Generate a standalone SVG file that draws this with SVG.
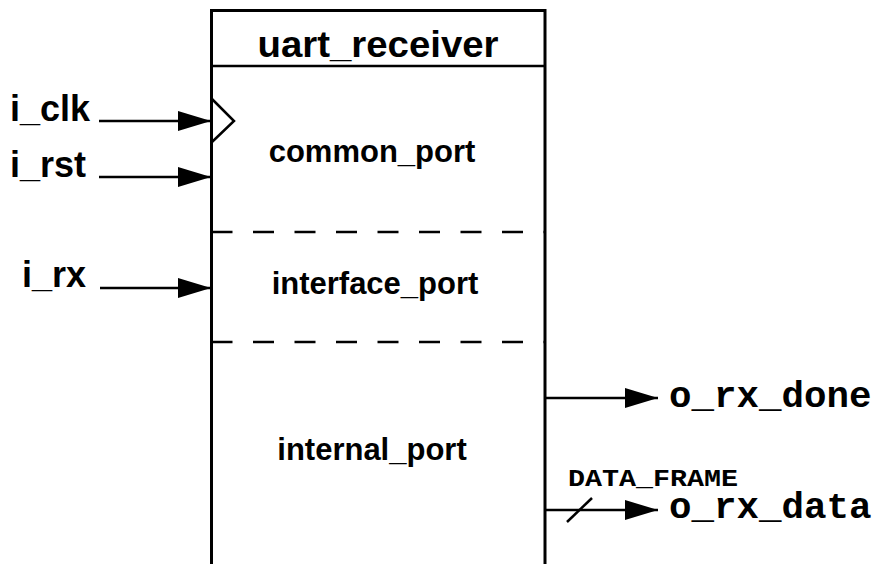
<svg xmlns="http://www.w3.org/2000/svg" width="877" height="564" viewBox="0 0 877 564">
<style>
.box{fill:#fff;stroke:#000;stroke-width:3}
.div{stroke:#000;stroke-width:2.5;fill:none}
.dash{stroke:#000;stroke-width:2.5;stroke-dasharray:21 20.5;fill:none}
.wire{stroke:#000;stroke-width:2.5;fill:none}
.sans{font-family:"Liberation Sans",Arial,sans-serif;font-weight:bold;fill:#000}
.mono{font-family:"Liberation Mono","Courier New",monospace;font-weight:bold;fill:#000}
</style>
<defs>
<marker id="arr" viewBox="0 0 33 20" refX="33" refY="10" markerWidth="33" markerHeight="20" markerUnits="userSpaceOnUse" orient="auto">
<path d="M0,0 L33,10 L0,20 Z" fill="#000"/>
</marker>
</defs>
<rect width="877" height="564" fill="#fff"/>
<g id="uart_receiver">
<rect class="box" x="211.5" y="10.5" width="333.5" height="600"/>
<line class="div" x1="211.5" y1="66" x2="545" y2="66"/>
<line class="dash" x1="211.5" y1="232" x2="545" y2="232"/>
<line class="dash" x1="211.5" y1="342" x2="545" y2="342"/>
<polyline class="wire" points="212,99 234,121 212,142"/>
<text class="sans" x="378" y="57" font-size="37" text-anchor="middle" textLength="241" lengthAdjust="spacingAndGlyphs">uart_receiver</text>
<text class="sans" x="372" y="162" font-size="31" text-anchor="middle">common_port</text>
<text class="sans" x="375" y="294" font-size="31" text-anchor="middle">interface_port</text>
<text class="sans" x="372" y="460" font-size="31" text-anchor="middle">internal_port</text>
</g>
<g id="connectors">
<line class="wire" x1="99" y1="121" x2="211" y2="121" marker-end="url(#arr)"/>
<line class="wire" x1="99" y1="177" x2="211" y2="177" marker-end="url(#arr)"/>
<line class="wire" x1="100" y1="288" x2="211" y2="288" marker-end="url(#arr)"/>
<line class="wire" x1="545" y1="398" x2="658" y2="398" marker-end="url(#arr)"/>
<line class="wire" x1="545" y1="510" x2="658" y2="510" marker-end="url(#arr)"/>
<line class="wire" x1="567" y1="522" x2="592" y2="498"/>
</g>
<g id="labels">
<text class="sans" x="10" y="121" font-size="36">i_clk</text>
<text class="sans" x="10" y="177" font-size="36">i_rst</text>
<text class="sans" x="22" y="287" font-size="36">i_rx</text>
<text class="mono" x="669" y="407" font-size="37.5">o_rx_done</text>
<text class="mono" x="568" y="486" font-size="24" textLength="170" lengthAdjust="spacingAndGlyphs">DATA_FRAME</text>
<text class="mono" x="669" y="518" font-size="37.5">o_rx_data</text>
</g>
</svg>
